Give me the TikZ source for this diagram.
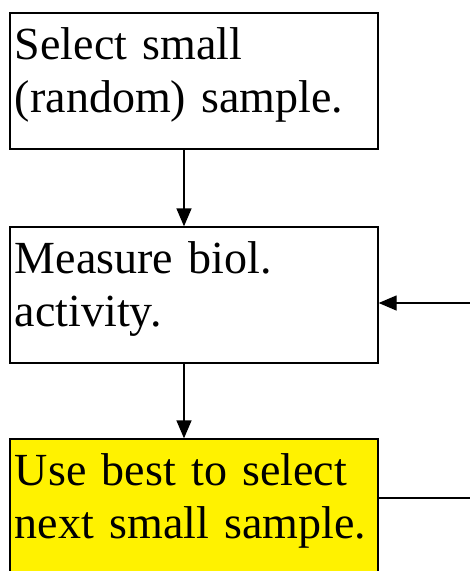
\documentclass[tikz,border=0pt]{standalone}
\usepackage{fontspec}
\setmainfont{Liberation Serif}
\usetikzlibrary{arrows.meta}
\begin{document}
\begin{tikzpicture}[x=1pt,y=-1pt,
  every node/.style={rectangle,draw,line width=1.3pt,minimum width=368pt,minimum height=136pt,
    text width=358pt,inner sep=5pt,text depth=75pt,align=left,font=\fontsize{46}{53}\selectfont},
  node distance=214pt,
  flow/.style={line width=1.3pt,-{Triangle[length=18pt,width=15pt]}}]
  \useasboundingbox (0,0) rectangle (470,571);
  \node (select) at (194,81) {Select small\\(random) sample.};
  \node (measure) [below of=select] {Measure biol.\\activity.};
  \node (usebest) [below of=measure,yshift=2pt,fill=yellow] {Use best to select\\next small sample.};
  \coordinate (loopin) at (470,303);
  \coordinate (loopout) at (470,498);
  \draw[flow] ([xshift=-10pt]select.south) -- ([xshift=-10pt]measure.north);
  \draw[flow] ([xshift=-10pt]measure.south) -- ([xshift=-10pt]usebest.north);
  \draw[flow] (loopin) -- (measure.east |- loopin);
  \draw[line width=1.3pt] (usebest.east |- loopout) -- (loopout);
\end{tikzpicture}
\end{document}
